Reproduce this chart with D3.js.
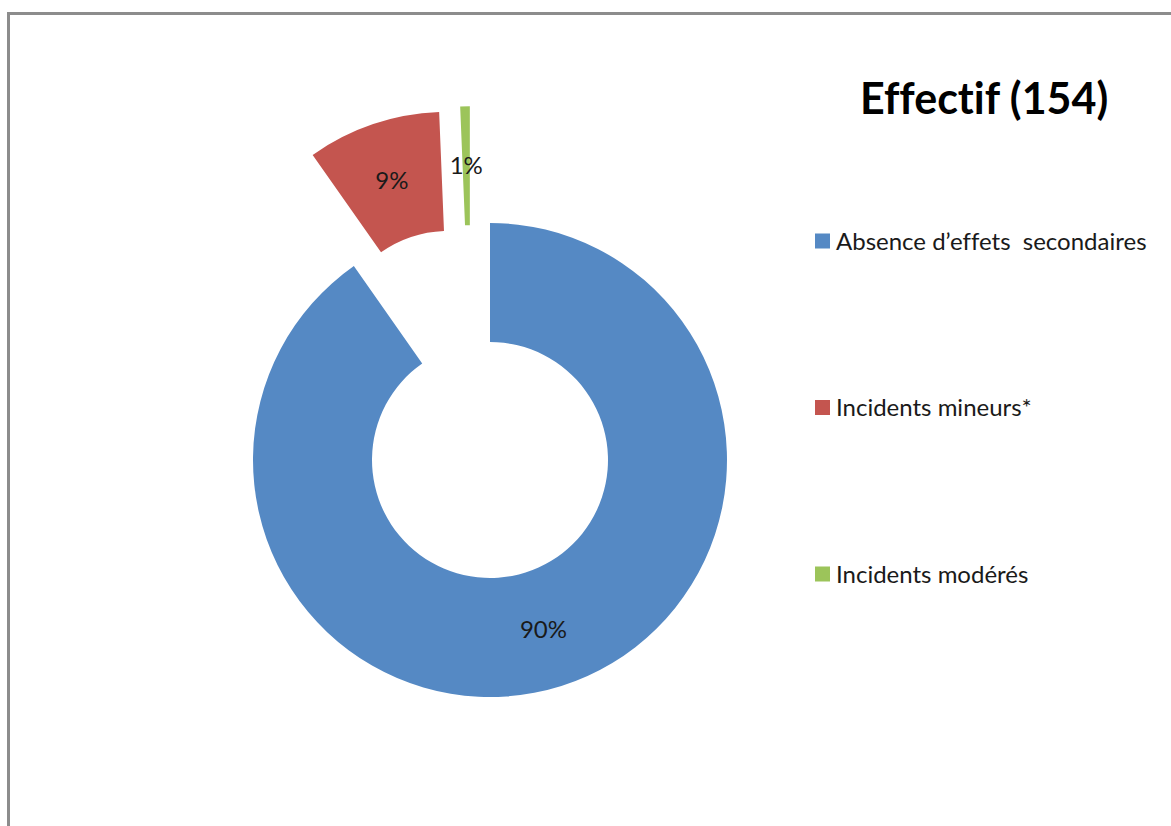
<!DOCTYPE html>
<html>
<head>
<meta charset="utf-8">
<script src="https://cdn.jsdelivr.net/npm/d3@7"></script>
<style>
  html, body { margin: 0; padding: 0; background: #fff; }
  svg { display: block; }
  text {
    font-family: Lato, "Open Sans", sans-serif;
    white-space: pre;
    font-variant-ligatures: none;
    font-feature-settings: "liga" 0, "dlig" 0;
  }
</style>
</head>
<body>
<svg id="chart" width="1171" height="826"></svg>
<script>
// Chart content
const title = "Effectif (154)";
const categories = ["Absence d’effets  secondaires", "Incidents mineurs*", "Incidents modérés"];
const counts = [139, 14, 1];
const colors = ["#5589C4", "#C4554F", "#9CC45A"];

// Layout
const W = 1171, H = 826;
const cx = 490, cy = 460;
const outerR = 237, innerR = 118;
// how far each slice is pulled out of the ring (fraction of outer radius)
const explodeFrac = [0, 0.5, 0.5];
// optional pull direction override (radians, clockwise from 12 o'clock)
const explodeBearing = [null, -0.355, -0.171];

const svg = d3.select("#chart");

// frame
svg.append("rect")
  .attr("x", 8.5).attr("y", 13.5)
  .attr("width", W + 20).attr("height", H + 20)
  .attr("fill", "#fff")
  .attr("stroke", "#8c8c8c")
  .attr("stroke-width", 3);

const total = d3.sum(counts);
const data = categories.map((c, i) => ({ name: c, value: counts[i], color: colors[i], i }));

const pie = d3.pie().value(d => d.value).sort(null).startAngle(0).endAngle(2 * Math.PI);
const arc = d3.arc().innerRadius(innerR).outerRadius(outerR);
const labelArc = d3.arc().innerRadius((innerR + outerR) / 2).outerRadius((innerR + outerR) / 2);
const pct = d3.format(".0%");

const g = svg.append("g").attr("transform", `translate(${cx},${cy})`);

const slices = g.selectAll("g.slice")
  .data(pie(data))
  .join("g")
  .attr("class", "slice")
  .attr("transform", d => {
    const i = d.data.i;
    const dist = explodeFrac[i] * outerR;
    const a = explodeBearing[i] != null ? explodeBearing[i] : (d.startAngle + d.endAngle) / 2;
    return `translate(${dist * Math.sin(a)},${-dist * Math.cos(a)})`;
  });

slices.append("path")
  .attr("d", arc)
  .attr("fill", d => d.data.color);

slices.append("text")
  .attr("transform", d => `translate(${labelArc.centroid(d)})`)
  .attr("text-anchor", "middle")
  .attr("dy", "0.36em")
  .attr("font-size", 24)
  .attr("fill", "#1a1a1a")
  .text(d => pct(d.data.value / total));

// title
svg.append("text")
  .attr("x", 860).attr("y", 114)
  .attr("font-size", 43)
  .attr("font-weight", "bold")
  .attr("fill", "#000")
  .text(title);

// legend
const legendY = d3.scalePoint().domain(categories).range([241, 574]);
const legend = svg.append("g").selectAll("g")
  .data(data)
  .join("g")
  .attr("transform", d => `translate(815,${legendY(d.name)})`);

legend.append("rect")
  .attr("x", 0).attr("y", -7.5)
  .attr("width", 15).attr("height", 15)
  .attr("fill", d => d.color);

legend.append("text")
  .attr("x", 21).attr("y", 0)
  .attr("dy", "0.36em")
  .attr("font-size", 24)
  .attr("fill", "#1a1a1a")
  .text(d => d.name);
</script>
</body>
</html>
